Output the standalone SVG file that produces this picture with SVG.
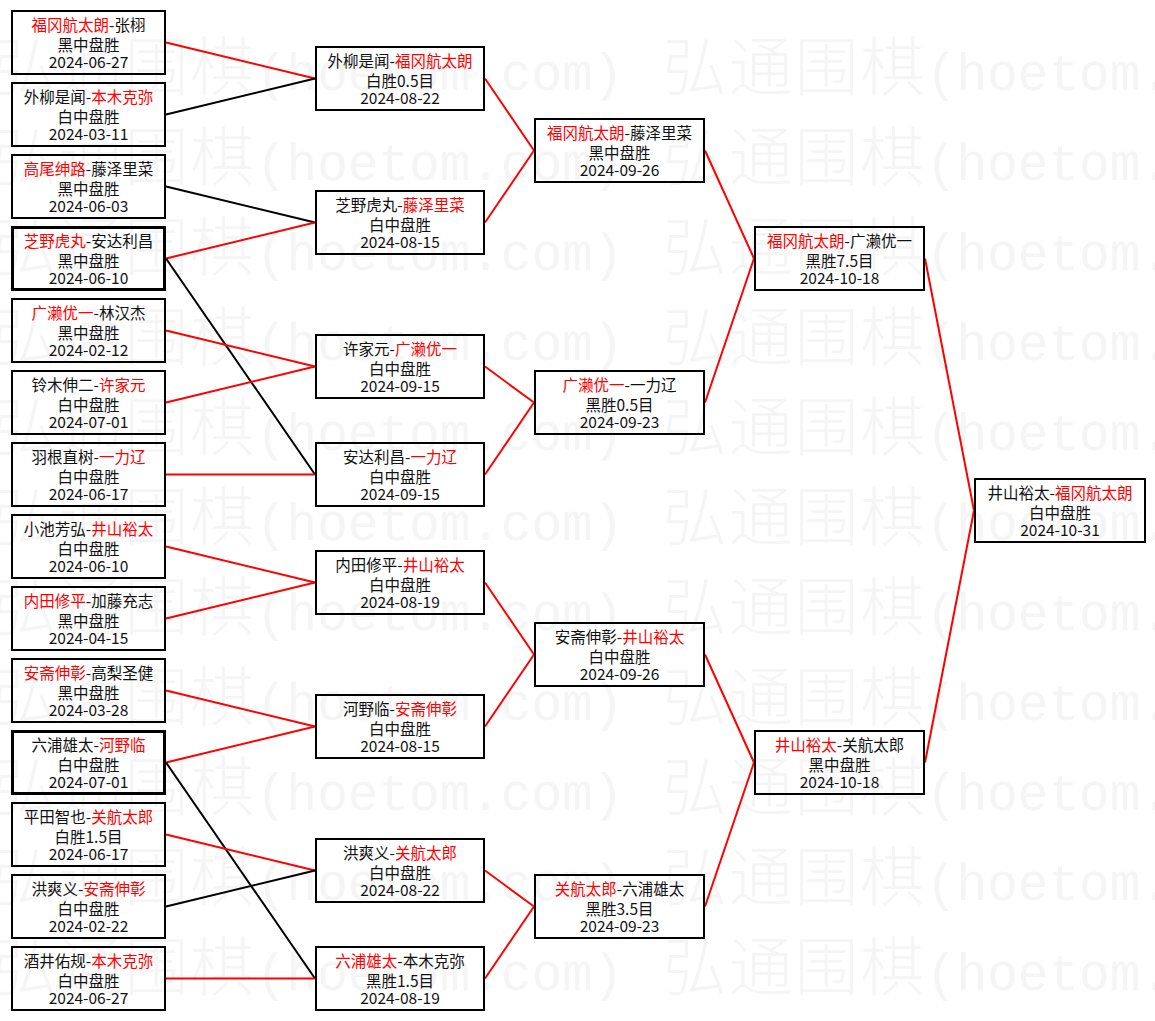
<svg xmlns="http://www.w3.org/2000/svg" xmlns:xlink="http://www.w3.org/1999/xlink" width="1155" height="1021" viewBox="0 0 1155 1021">
<style>
.box{fill:none;stroke:#000;stroke-width:2}
.bb{stroke-width:3}
.t{font-family:"Noto Sans CJK SC","Noto Sans",sans-serif;font-size:15.5px;text-anchor:middle;fill:#111}
.r{fill:#f00}
.cr{stroke:#f00;stroke-width:2;fill:none}
.ck{stroke:#000;stroke-width:2;fill:none}
.wm{font-family:"Noto Sans CJK SC",sans-serif;font-size:64px;font-weight:300;fill:#f5f5f5}
.wa{font-family:"Liberation Mono",monospace;font-size:51px}
</style>
<defs>
<g id="wmrow">
<text class="wm" x="-7" y="0"><tspan letter-spacing="1.75">弘通围棋</tspan><tspan class="wa" x="256">(hoetom.com)</tspan></text>
<text class="wm" x="663" y="0"><tspan letter-spacing="1.75">弘通围棋</tspan><tspan class="wa" x="926">(hoetom.com)</tspan></text>
</g>
</defs>
<rect x="0" y="0" width="1155" height="1021" fill="#fff"/>
<g id="watermark">
<use xlink:href="#wmrow" transform="translate(0,90)"/>
<use xlink:href="#wmrow" transform="translate(0,180)"/>
<use xlink:href="#wmrow" transform="translate(0,270)"/>
<use xlink:href="#wmrow" transform="translate(0,360)"/>
<use xlink:href="#wmrow" transform="translate(0,450)"/>
<use xlink:href="#wmrow" transform="translate(0,540)"/>
<use xlink:href="#wmrow" transform="translate(0,630)"/>
<use xlink:href="#wmrow" transform="translate(0,720)"/>
<use xlink:href="#wmrow" transform="translate(0,810)"/>
<use xlink:href="#wmrow" transform="translate(0,900)"/>
<use xlink:href="#wmrow" transform="translate(0,990)"/>
</g>
<g id="connectors">
<line class="cr" x1="166" y1="42.5" x2="315" y2="78.5"/>
<line class="ck" x1="166" y1="114.5" x2="315" y2="78.5"/>
<line class="ck" x1="166" y1="186.5" x2="315" y2="222.5"/>
<line class="cr" x1="166" y1="258.5" x2="315" y2="222.5"/>
<line class="ck" x1="166" y1="258.5" x2="315" y2="474.5"/>
<line class="cr" x1="166" y1="330.5" x2="315" y2="366.5"/>
<line class="cr" x1="166" y1="402.5" x2="315" y2="366.5"/>
<line class="cr" x1="166" y1="474.5" x2="315" y2="474.5"/>
<line class="cr" x1="166" y1="546.5" x2="315" y2="582.5"/>
<line class="cr" x1="166" y1="618.5" x2="315" y2="582.5"/>
<line class="cr" x1="166" y1="690.5" x2="315" y2="726.5"/>
<line class="cr" x1="166" y1="762.5" x2="315" y2="726.5"/>
<line class="ck" x1="166" y1="762.5" x2="315" y2="978.5"/>
<line class="cr" x1="166" y1="834.5" x2="315" y2="870.5"/>
<line class="ck" x1="166" y1="906.5" x2="315" y2="870.5"/>
<line class="cr" x1="166" y1="978.5" x2="315" y2="978.5"/>
<line class="cr" x1="485" y1="78.5" x2="534" y2="150.5"/>
<line class="cr" x1="485" y1="222.5" x2="534" y2="150.5"/>
<line class="cr" x1="485" y1="366.5" x2="534" y2="402.5"/>
<line class="cr" x1="485" y1="474.5" x2="534" y2="402.5"/>
<line class="cr" x1="485" y1="582.5" x2="534" y2="654.5"/>
<line class="cr" x1="485" y1="726.5" x2="534" y2="654.5"/>
<line class="cr" x1="485" y1="870.5" x2="534" y2="906.5"/>
<line class="cr" x1="485" y1="978.5" x2="534" y2="906.5"/>
<line class="cr" x1="705" y1="150.5" x2="754" y2="258.5"/>
<line class="cr" x1="705" y1="402.5" x2="754" y2="258.5"/>
<line class="cr" x1="705" y1="654.5" x2="754" y2="762.5"/>
<line class="cr" x1="705" y1="906.5" x2="754" y2="762.5"/>
<line class="cr" x1="925" y1="258.5" x2="974" y2="510.5"/>
<line class="cr" x1="925" y1="762.5" x2="974" y2="510.5"/>
</g>
<g id="n1"><rect class="box" x="12" y="11" width="153" height="63"/><text class="t" x="88.5" y="31"><tspan class="r">福冈航太朗</tspan>-张栩</text><text class="t" x="88.5" y="50.5">黑中盘胜</text><text class="t" x="88.5" y="68">2024-06-27</text></g>
<g id="n2"><rect class="box" x="12" y="83" width="153" height="63"/><text class="t" x="88.5" y="103">外柳是闻-<tspan class="r">本木克弥</tspan></text><text class="t" x="88.5" y="122.5">白中盘胜</text><text class="t" x="88.5" y="140">2024-03-11</text></g>
<g id="n3"><rect class="box" x="12" y="155" width="153" height="63"/><text class="t" x="88.5" y="175"><tspan class="r">高尾绅路</tspan>-藤泽里菜</text><text class="t" x="88.5" y="194.5">黑中盘胜</text><text class="t" x="88.5" y="212">2024-06-03</text></g>
<g id="n4"><rect class="box bb" x="12.5" y="227.5" width="152" height="62"/><text class="t" x="88.5" y="247"><tspan class="r">芝野虎丸</tspan>-安达利昌</text><text class="t" x="88.5" y="266.5">黑中盘胜</text><text class="t" x="88.5" y="284">2024-06-10</text></g>
<g id="n5"><rect class="box" x="12" y="299" width="153" height="63"/><text class="t" x="88.5" y="319"><tspan class="r">广濑优一</tspan>-林汉杰</text><text class="t" x="88.5" y="338.5">黑中盘胜</text><text class="t" x="88.5" y="356">2024-02-12</text></g>
<g id="n6"><rect class="box" x="12" y="371" width="153" height="63"/><text class="t" x="88.5" y="391">铃木伸二-<tspan class="r">许家元</tspan></text><text class="t" x="88.5" y="410.5">白中盘胜</text><text class="t" x="88.5" y="428">2024-07-01</text></g>
<g id="n7"><rect class="box" x="12" y="443" width="153" height="63"/><text class="t" x="88.5" y="463">羽根直树-<tspan class="r">一力辽</tspan></text><text class="t" x="88.5" y="482.5">白中盘胜</text><text class="t" x="88.5" y="500">2024-06-17</text></g>
<g id="n8"><rect class="box" x="12" y="515" width="153" height="63"/><text class="t" x="88.5" y="535">小池芳弘-<tspan class="r">井山裕太</tspan></text><text class="t" x="88.5" y="554.5">白中盘胜</text><text class="t" x="88.5" y="572">2024-06-10</text></g>
<g id="n9"><rect class="box" x="12" y="587" width="153" height="63"/><text class="t" x="88.5" y="607"><tspan class="r">内田修平</tspan>-加藤充志</text><text class="t" x="88.5" y="626.5">黑中盘胜</text><text class="t" x="88.5" y="644">2024-04-15</text></g>
<g id="n10"><rect class="box" x="12" y="659" width="153" height="63"/><text class="t" x="88.5" y="679"><tspan class="r">安斋伸彰</tspan>-高梨圣健</text><text class="t" x="88.5" y="698.5">黑中盘胜</text><text class="t" x="88.5" y="716">2024-03-28</text></g>
<g id="n11"><rect class="box bb" x="12.5" y="731.5" width="152" height="62"/><text class="t" x="88.5" y="751">六浦雄太-<tspan class="r">河野临</tspan></text><text class="t" x="88.5" y="770.5">白中盘胜</text><text class="t" x="88.5" y="788">2024-07-01</text></g>
<g id="n12"><rect class="box" x="12" y="803" width="153" height="63"/><text class="t" x="88.5" y="823">平田智也-<tspan class="r">关航太郎</tspan></text><text class="t" x="88.5" y="842.5">白胜1.5目</text><text class="t" x="88.5" y="860">2024-06-17</text></g>
<g id="n13"><rect class="box" x="12" y="875" width="153" height="63"/><text class="t" x="88.5" y="895">洪爽义-<tspan class="r">安斋伸彰</tspan></text><text class="t" x="88.5" y="914.5">白中盘胜</text><text class="t" x="88.5" y="932">2024-02-22</text></g>
<g id="n14"><rect class="box" x="12" y="947" width="153" height="63"/><text class="t" x="88.5" y="967">酒井佑规-<tspan class="r">本木克弥</tspan></text><text class="t" x="88.5" y="986.5">白中盘胜</text><text class="t" x="88.5" y="1004">2024-06-27</text></g>
<g id="m1"><rect class="box" x="316" y="47" width="168" height="63"/><text class="t" x="400" y="67">外柳是闻-<tspan class="r">福冈航太朗</tspan></text><text class="t" x="400" y="86.5">白胜0.5目</text><text class="t" x="400" y="104">2024-08-22</text></g>
<g id="m2"><rect class="box" x="316" y="191" width="168" height="63"/><text class="t" x="400" y="211">芝野虎丸-<tspan class="r">藤泽里菜</tspan></text><text class="t" x="400" y="230.5">白中盘胜</text><text class="t" x="400" y="248">2024-08-15</text></g>
<g id="m3"><rect class="box" x="316" y="335" width="168" height="63"/><text class="t" x="400" y="355">许家元-<tspan class="r">广濑优一</tspan></text><text class="t" x="400" y="374.5">白中盘胜</text><text class="t" x="400" y="392">2024-09-15</text></g>
<g id="m4"><rect class="box" x="316" y="443" width="168" height="63"/><text class="t" x="400" y="463">安达利昌-<tspan class="r">一力辽</tspan></text><text class="t" x="400" y="482.5">白中盘胜</text><text class="t" x="400" y="500">2024-09-15</text></g>
<g id="m5"><rect class="box" x="316" y="551" width="168" height="63"/><text class="t" x="400" y="571">内田修平-<tspan class="r">井山裕太</tspan></text><text class="t" x="400" y="590.5">白中盘胜</text><text class="t" x="400" y="608">2024-08-19</text></g>
<g id="m6"><rect class="box" x="316" y="695" width="168" height="63"/><text class="t" x="400" y="715">河野临-<tspan class="r">安斋伸彰</tspan></text><text class="t" x="400" y="734.5">白中盘胜</text><text class="t" x="400" y="752">2024-08-15</text></g>
<g id="m7"><rect class="box" x="316" y="839" width="168" height="63"/><text class="t" x="400" y="859">洪爽义-<tspan class="r">关航太郎</tspan></text><text class="t" x="400" y="878.5">白中盘胜</text><text class="t" x="400" y="896">2024-08-22</text></g>
<g id="m8"><rect class="box" x="316" y="947" width="168" height="63"/><text class="t" x="400" y="967"><tspan class="r">六浦雄太</tspan>-本木克弥</text><text class="t" x="400" y="986.5">黑胜1.5目</text><text class="t" x="400" y="1004">2024-08-19</text></g>
<g id="q1"><rect class="box" x="535" y="119" width="169" height="63"/><text class="t" x="619.5" y="139"><tspan class="r">福冈航太朗</tspan>-藤泽里菜</text><text class="t" x="619.5" y="158.5">黑中盘胜</text><text class="t" x="619.5" y="176">2024-09-26</text></g>
<g id="q2"><rect class="box" x="535" y="371" width="169" height="63"/><text class="t" x="619.5" y="391"><tspan class="r">广濑优一</tspan>-一力辽</text><text class="t" x="619.5" y="410.5">黑胜0.5目</text><text class="t" x="619.5" y="428">2024-09-23</text></g>
<g id="q3"><rect class="box" x="535" y="623" width="169" height="63"/><text class="t" x="619.5" y="643">安斋伸彰-<tspan class="r">井山裕太</tspan></text><text class="t" x="619.5" y="662.5">白中盘胜</text><text class="t" x="619.5" y="680">2024-09-26</text></g>
<g id="q4"><rect class="box" x="535" y="875" width="169" height="63"/><text class="t" x="619.5" y="895"><tspan class="r">关航太郎</tspan>-六浦雄太</text><text class="t" x="619.5" y="914.5">黑胜3.5目</text><text class="t" x="619.5" y="932">2024-09-23</text></g>
<g id="s1"><rect class="box" x="755" y="227" width="169" height="63"/><text class="t" x="839.5" y="247"><tspan class="r">福冈航太朗</tspan>-广濑优一</text><text class="t" x="839.5" y="266.5">黑胜7.5目</text><text class="t" x="839.5" y="284">2024-10-18</text></g>
<g id="s2"><rect class="box" x="755" y="731" width="169" height="63"/><text class="t" x="839.5" y="751"><tspan class="r">井山裕太</tspan>-关航太郎</text><text class="t" x="839.5" y="770.5">黑中盘胜</text><text class="t" x="839.5" y="788">2024-10-18</text></g>
<g id="f1"><rect class="box" x="975" y="479" width="170" height="63"/><text class="t" x="1060" y="499">井山裕太-<tspan class="r">福冈航太朗</tspan></text><text class="t" x="1060" y="518.5">白中盘胜</text><text class="t" x="1060" y="536">2024-10-31</text></g>
</svg>
